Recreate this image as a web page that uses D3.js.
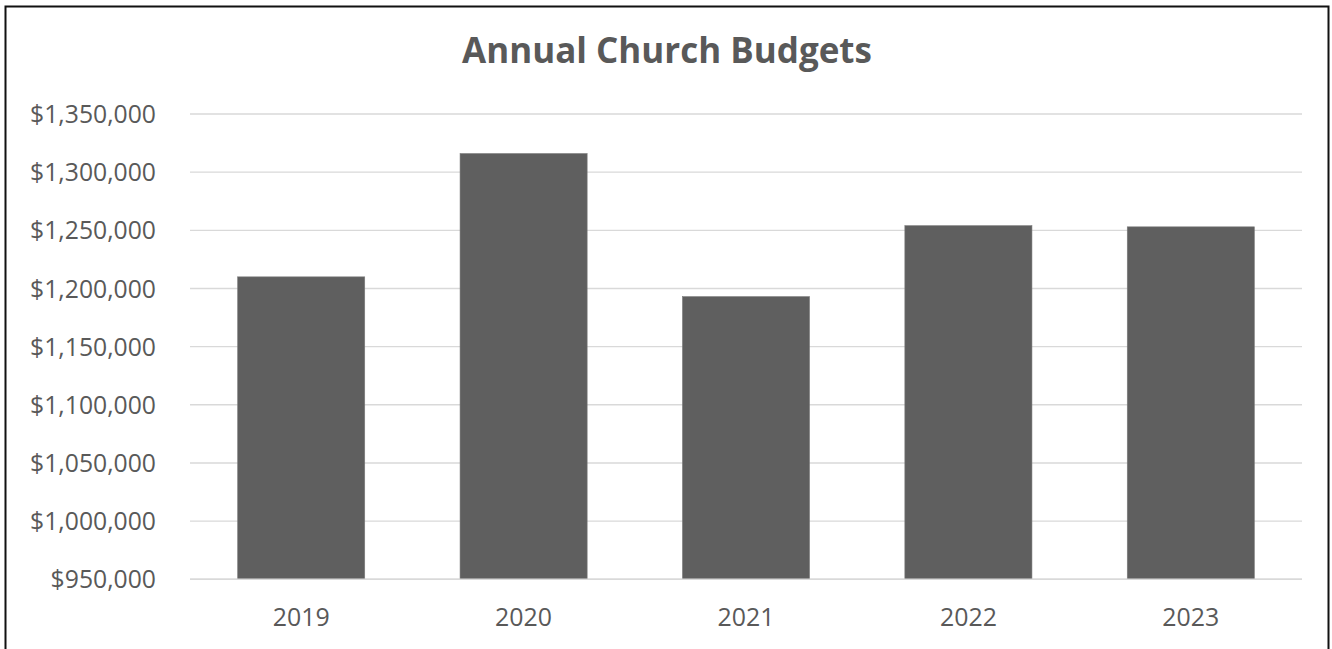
<!DOCTYPE html>
<html>
<head>
<meta charset="utf-8">
<script src="https://cdn.jsdelivr.net/npm/d3@7"></script>
<style>
  html, body { margin: 0; padding: 0; background: #fff; }
  svg { display: block; }
</style>
</head>
<body>
<svg id="chart" width="1332" height="649"></svg>
<script>
const title = "Annual Church Budgets";
const years = ["2019", "2020", "2021", "2022", "2023"];
const budgets = [1210000, 1316000, 1193000, 1254000, 1253000];
const yTicks = [950000, 1000000, 1050000, 1100000, 1150000, 1200000, 1250000, 1300000, 1350000];

const W = 1332, H = 649;
const svg = d3.select("#chart");
const font = "'Open Sans', 'Noto Sans', sans-serif";
const textColor = "#595959";

// chart border
svg.append("rect")
  .attr("x", 5.5).attr("y", 6.5)
  .attr("width", 1323).attr("height", 700)
  .attr("fill", "#fff")
  .attr("stroke", "#111").attr("stroke-width", 2);

const plot = { left: 190, right: 1302, top: 114, bottom: 579.3 };

const x = d3.scaleBand()
  .domain(years)
  .range([plot.left, plot.right])
  .paddingInner(0.4286)
  .paddingOuter(0.2143);

const y = d3.scaleLinear()
  .domain([950000, 1350000])
  .range([plot.bottom, plot.top]);

// gridlines
svg.append("g")
  .selectAll("line")
  .data(yTicks)
  .join("line")
  .attr("x1", plot.left).attr("x2", plot.right)
  .attr("y1", d => y(d)).attr("y2", d => y(d))
  .attr("stroke", "#d9d9d9").attr("stroke-width", 1.4);

// bars
svg.append("g")
  .selectAll("rect")
  .data(years.map((yr, i) => ({ yr, v: budgets[i] })))
  .join("rect")
  .attr("x", d => x(d.yr))
  .attr("width", x.bandwidth())
  .attr("y", d => y(d.v))
  .attr("height", d => y(950000) - y(d.v))
  .attr("fill", "#5f5f5f")
  .attr("stroke", "#7a7a7a").attr("stroke-width", 0.6);

// redraw baseline axis line on top
svg.append("line")
  .attr("x1", plot.left).attr("x2", plot.right)
  .attr("y1", y(950000)).attr("y2", y(950000))
  .attr("stroke", "#d9d9d9").attr("stroke-width", 1.4);

// y axis via d3 axis
const fmt = d3.format("$,.0f");
const yAxis = svg.append("g")
  .attr("transform", `translate(156,0)`)
  .call(d3.axisLeft(y).tickValues(yTicks).tickFormat(fmt).tickSize(0).tickPadding(0));
yAxis.select(".domain").remove();
yAxis.selectAll("text")
  .attr("fill", textColor)
  .style("font-family", font)
  .attr("dy", "0.35em");

// x axis
const xAxis = svg.append("g")
  .attr("transform", `translate(0,${plot.bottom})`)
  .call(d3.axisBottom(x).tickSize(0).tickPadding(0));
xAxis.select(".domain").remove();
xAxis.selectAll("text")
  .attr("fill", textColor)
  .style("font-family", font)
  .attr("y", 0).attr("dy", 0);

// title
const t = svg.append("text")
  .attr("x", 667).attr("y", 63)
  .attr("text-anchor", "middle")
  .attr("fill", textColor)
  .style("font-family", font)
  .style("font-weight", "bold")
  .text(title);

// fit font sizes to measured widths in reference
function fit(sel, sampleNode, targetW) {
  sel.style("font-size", "20px");
  const w = sampleNode.getComputedTextLength();
  const fs = 20 * targetW / w;
  sel.style("font-size", fs + "px");
  return fs;
}
const ySel = yAxis.selectAll("text");
fit(ySel, ySel.nodes()[ySel.size() - 1], 126);
const xSel = xAxis.selectAll("text");
fit(xSel, xSel.nodes()[0], 57);
xSel.attr("y", 626 - plot.bottom);
fit(t, t.node(), 410);
</script>
</body>
</html>
